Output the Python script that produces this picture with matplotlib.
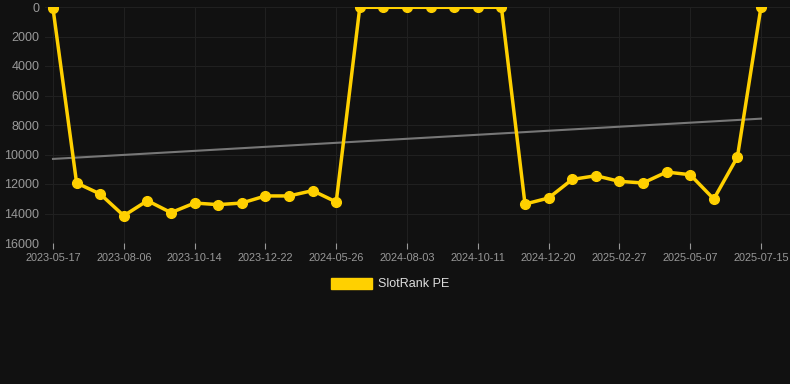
import numpy as np
import matplotlib.pyplot as plt
from matplotlib.patches import Patch

plt.rcParams['font.family'] = ['Liberation Sans', 'DejaVu Sans']

dates = ['2023-05-17', '', '', '2023-08-06', '', '', '2023-10-14', '', '', '2023-12-22', '', '',
         '2024-05-26', '', '', '2024-08-03', '', '', '2024-10-11', '', '', '2024-12-20', '', '',
         '2025-02-27', '', '', '2025-05-07', '', '', '2025-07-15']
rank = [100, 11930, 12680, 14150, 13130, 13940, 13290, 13400, 13290, 12810, 12810, 12450,
        13220, 20, 20, 20, 20, 20, 20, 20, 13360, 12950, 11690, 11440, 11820, 11930,
        11190, 11370, 13020, 10170, 0]
trend_ends = [10300, 7570]

bg = '#111111'
fig = plt.figure(figsize=(7.9, 3.84), dpi=100, facecolor=bg)
ax = fig.add_axes([45/790, 1 - 243/384, 745/790, 236/384], facecolor=bg)

x = np.arange(len(rank))
ax.plot([x[0], x[-1]], trend_ends, color='#777777', lw=1.5, zorder=2)
ax.plot(x, rank, color='#FFD000', lw=2.5, marker='o', ms=7, zorder=3)

ax.set_ylim(16000, 0)
ax.set_yticks(np.arange(0, 16001, 2000))
ax.set_xlim(-8/23.6, 30 + 29/23.6)
ax.set_xticks(x[::3])
ax.set_xticklabels([d for d in dates if d])

ax.grid(True, color='#202020', lw=0.8)
for s in ax.spines.values():
    s.set_visible(False)
ax.tick_params(axis='y', colors='#999999', labelsize=9, length=0, pad=4)
ax.tick_params(axis='x', colors='#999999', labelsize=7.8, length=4, width=0.8, pad=3)
for t in ax.get_xticklines():
    t.set_color('#242424')

fig.legend(handles=[Patch(color='#FFD000', label='SlotRank PE')], loc='center',
           bbox_to_anchor=(390/790, 1 - 284/384), frameon=False, fontsize=9,
           labelcolor='#dddddd', handlelength=3.3, handleheight=1.0, handletextpad=0.5)

fig.savefig('out.png', dpi=100, facecolor=bg)
